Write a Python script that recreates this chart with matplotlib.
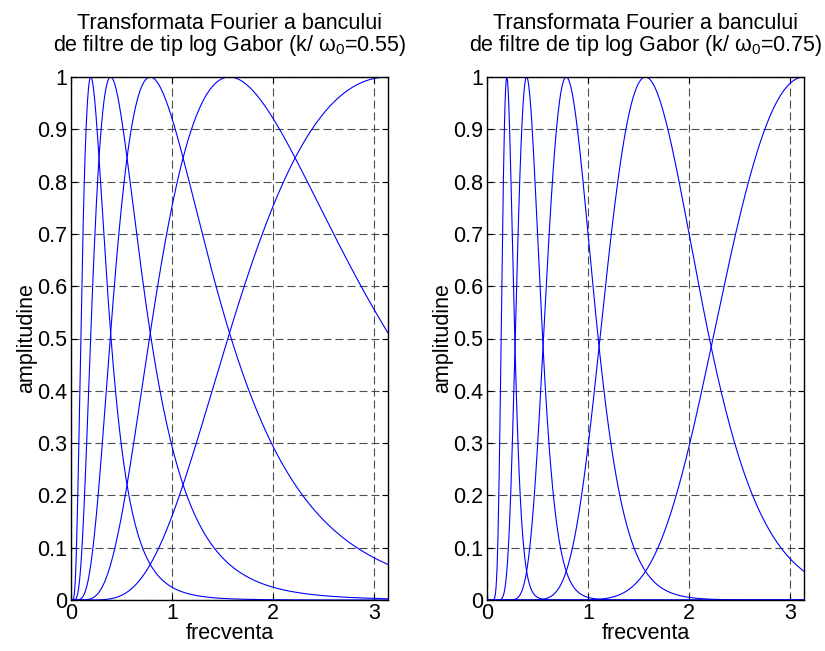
import numpy as np
import matplotlib
matplotlib.use("Agg")
import matplotlib.pyplot as plt

plt.rcParams["font.family"] = ["Liberation Sans", "DejaVu Sans"]
plt.rcParams["mathtext.fontset"] = "custom"
plt.rcParams["mathtext.rm"] = "Liberation Sans"
plt.rcParams["mathtext.it"] = "Liberation Sans"

# filter bank parameters
center_freqs = [np.pi / 16, np.pi / 8, np.pi / 4, np.pi / 2, np.pi]
k_ratios = [0.55, 0.75]
y_ticks = [0, 0.1, 0.2, 0.3, 0.4, 0.5, 0.6, 0.7, 0.8, 0.9, 1]
y_tick_labels = ["0", "0.1", "0.2", "0.3", "0.4", "0.5", "0.6", "0.7", "0.8", "0.9", "1"]
x_ticks = [0, 1, 2, 3]

w = np.linspace(0, np.pi, 600)


# log Gabor transfer function
def log_gabor(w, w0, ratio):
    g = np.zeros_like(w)
    m = w > 0
    g[m] = np.exp(-(np.log(w[m] / w0) ** 2) / (2 * np.log(ratio) ** 2))
    return g


fs = 15.5
fig = plt.figure(figsize=(8.25, 6.51), dpi=100)
lefts = [71 / 825, 487 / 825]

for left, ratio in zip(lefts, k_ratios):
    ax = fig.add_axes([left, 51 / 651, 317 / 825, 523 / 651])
    for w0 in center_freqs:
        ax.plot(w, log_gabor(w, w0, ratio), color="#0000ff", lw=0.8)
    ax.set_xlim(0, np.pi)
    ax.set_ylim(0, 1)
    ax.set_xticks(x_ticks)
    ax.set_yticks(y_ticks)
    ax.set_yticklabels(y_tick_labels)
    ax.grid(True, color="0.3", linestyle=(0, (7.2, 3.6)), linewidth=0.8)
    ax.tick_params(direction="in", length=4, top=True, right=True,
                   labelsize=fs, pad=2.5, width=0.8)
    for s in ax.spines.values():
        s.set_linewidth(1.0)
    ax.set_xlabel("frecventa", fontsize=fs, labelpad=-1)
    ax.set_ylabel("amplitudine", fontsize=fs, labelpad=0)
    ax.set_title("Transformata Fourier a bancului\n"
                 "de filtre de tip log Gabor (k/ $\\omega_0$=%.2f)" % ratio,
                 fontsize=fs, pad=19, linespacing=0.95)

fig.savefig("out.png", dpi=100)
